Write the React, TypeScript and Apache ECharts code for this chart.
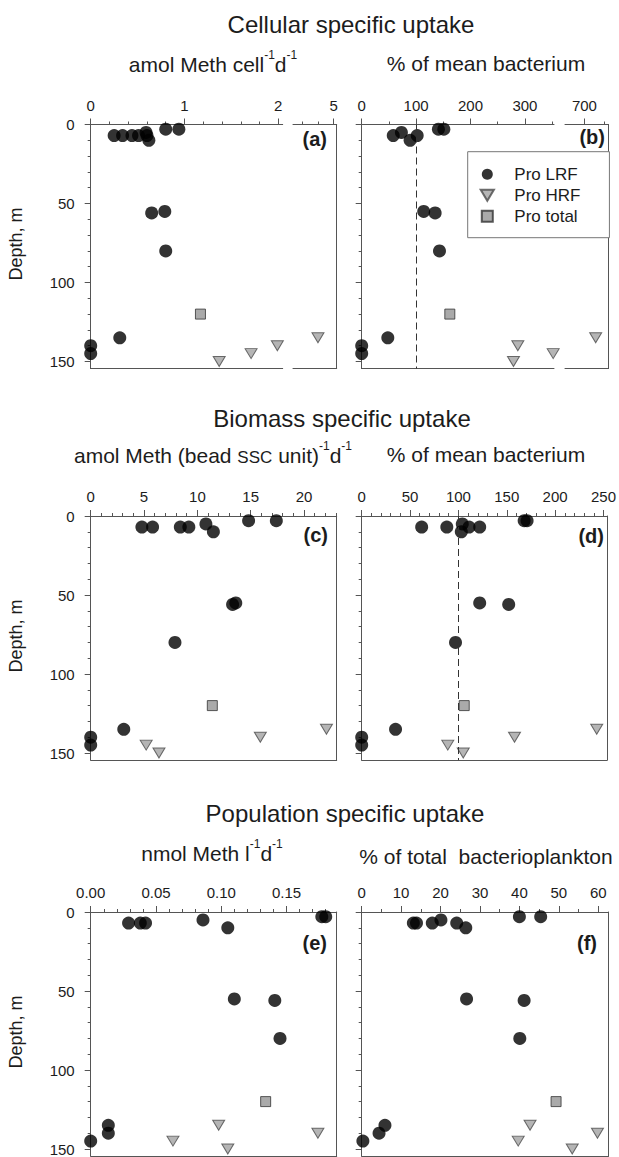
import React, { useEffect, useRef } from 'react';
import * as echarts from 'echarts';

// ---------------- data ----------------
const SERIES_NAMES = ['Pro LRF', 'Pro HRF', 'Pro total'];
const DEPTH_MAX = 154.5;
const depthTicks = [0, 50, 100, 150];
const depthMinorTicks = [10, 20, 30, 40, 60, 70, 80, 90, 110, 120, 130, 140];
const refLine = 100; // % of mean bacterium

// (a) amol Meth cell-1 d-1  [value, depth]
const aLRF = [[0.25, 7], [0.34, 7], [0.44, 7], [0.51, 7], [0.59, 5], [0.6, 7], [0.62, 10], [0.8, 3], [0.94, 3], [0.65, 56], [0.79, 55], [0.8, 80], [0.31, 135], [0, 140], [0, 145]];
const aHRF = [[1.37, 150], [1.71, 145], [1.99, 140], [4.8, 135]];
const aTotal = [[1.17, 120]];
const aMajor = [0, 1, 2];
const aMinor = [0.2, 0.4, 0.6, 0.8, 1.2, 1.4, 1.6, 1.8];
const aBreakMajor = [5];
const aBreakMinor = [4.6, 4.8];

// (b) % of mean bacterium
const bLRF = [[58, 7], [73, 5], [89, 10], [102, 7], [141, 3], [151, 3], [114, 55], [135, 56], [143, 80], [48, 135], [0, 140], [0, 145]];
const bHRF = [[287, 140], [279, 150], [352, 145], [729, 135]];
const bTotal = [[162, 120]];
const bMajor = [0, 100, 200, 300];
const bMinor = [50, 150, 250, 350];
const bBreakMajor = [700];
const bBreakMinor = [750];

// (c) amol Meth (bead SSC unit)-1 d-1
const cLRF = [[4.8, 7], [5.8, 7], [8.4, 7], [9.2, 7], [10.8, 5], [11.5, 10], [14.8, 3], [17.4, 3], [13.3, 56], [13.6, 55], [7.9, 80], [3.1, 135], [0, 140], [0, 145]];
const cHRF = [[5.2, 145], [6.4, 150], [15.9, 140], [22.1, 135]];
const cTotal = [[11.4, 120]];
const cMajor = [0, 5, 10, 15, 20];
const cMinor = [1, 2, 3, 4, 6, 7, 8, 9, 11, 12, 13, 14, 16, 17, 18, 19, 21, 22, 23];

// (d) % of mean bacterium
const dLRF = [[62, 7], [88, 7], [104, 5], [103, 10], [111, 7], [122, 7], [168, 3], [171, 3], [122, 55], [152, 56], [97, 80], [35, 135], [0, 140], [0, 145]];
const dHRF = [[89, 145], [105, 150], [158, 140], [243, 135]];
const dTotal = [[106, 120]];
const dMajor = [0, 50, 100, 150, 200, 250];
const dMinor = [10, 20, 30, 40, 60, 70, 80, 90, 110, 120, 130, 140, 160, 170, 180, 190, 210, 220, 230, 240];

// (e) nmol Meth l-1 d-1
const eLRF = [[0.029, 7], [0.038, 7], [0.042, 7], [0.086, 5], [0.105, 10], [0.177, 3], [0.18, 3], [0.11, 55], [0.141, 56], [0.145, 80], [0.0135, 135], [0.0135, 140], [0, 145]];
const eHRF = [[0.063, 145], [0.098, 135], [0.105, 150], [0.174, 140]];
const eTotal = [[0.134, 120]];
const eMajor = [0, 0.05, 0.1, 0.15];
const eMinor = [0.01, 0.02, 0.03, 0.04, 0.06, 0.07, 0.08, 0.09, 0.11, 0.12, 0.13, 0.14, 0.16, 0.17, 0.18];

// (f) % of total bacterioplankton
const fLRF = [[13.1, 7], [13.9, 7], [17.9, 7], [20.1, 5], [24.1, 7], [26.4, 10], [40, 3], [45.4, 3], [26.6, 55], [41.2, 56], [40.1, 80], [5.9, 135], [4.4, 140], [0.3, 145]];
const fHRF = [[39.7, 145], [42.7, 135], [53.4, 150], [59.8, 140]];
const fTotal = [[49.3, 120]];
const fMajor = [0, 10, 20, 30, 40, 50, 60];
const fMinor = [5, 15, 25, 35, 45, 55];

// ---------------- layout / style ----------------
const FONT = '"Liberation Sans", Arial, Helvetica, sans-serif';
const AXIS_COLOR = '#555';
const TEXT_COLOR = '#1c1c1c';
const PLOT_H = DEPTH_MAX * 1.58;
const ROW_TOPS = [124.5, 516, 912];
const L0 = 90.7, L1 = 336.7, R0 = 361.7, R1 = 608.5;

const TRI = 'path://M0,0L12,0L6,10Z';
const SQR = 'path://M0,0L10,0L10,10L0,10Z';

function buildOption() {
  const grids: any[] = [];
  const xAxes: any[] = [];
  const yAxes: any[] = [];
  const series: any[] = [];
  const lineStyle = { color: AXIS_COLOR, width: 1 };
  const labelStyle = { fontSize: 15, color: TEXT_COLOR, fontFamily: FONT };

  const addGrid = (s: any) => {
    const gi = grids.length;
    grids.push({ left: s.x0, top: s.top, width: s.x1 - s.x0, height: PLOT_H });
    const baseX = { gridIndex: gi, type: 'value', min: s.min, max: s.max, splitLine: { show: false } };
    const xi = xAxes.length;
    xAxes.push({
      ...baseX, position: 'top',
      axisLine: { show: true, onZero: false, lineStyle },
      axisTick: { show: true, inside: false, length: 6, customValues: s.major, lineStyle },
      axisLabel: { show: true, customValues: s.major, margin: 12, ...labelStyle, formatter: s.fmt || ((v: number) => String(v)) },
    });
    xAxes.push({
      ...baseX, position: 'top',
      axisLine: { show: false, onZero: false },
      axisTick: { show: true, inside: false, length: 3, customValues: s.minor, lineStyle },
      axisLabel: { show: false },
    });
    xAxes.push({
      ...baseX, position: 'bottom',
      axisLine: { show: true, onZero: false, lineStyle },
      axisTick: { show: false }, axisLabel: { show: false },
    });
    const baseY = { gridIndex: gi, type: 'value', inverse: true, min: 0, max: DEPTH_MAX, splitLine: { show: false } };
    const yi = yAxes.length;
    if (s.leftAxis) {
      yAxes.push({
        ...baseY, position: 'left',
        axisLine: { show: true, onZero: false, lineStyle },
        axisTick: { show: true, inside: false, length: 6, customValues: depthTicks, lineStyle },
        axisLabel: { show: !!s.yLabels, customValues: depthTicks, margin: 16, ...labelStyle, lineHeight: 13 },
      });
      yAxes.push({
        ...baseY, position: 'left',
        axisLine: { show: false, onZero: false },
        axisTick: { show: true, inside: false, length: 3, customValues: depthMinorTicks, lineStyle },
        axisLabel: { show: false },
      });
    }
    if (s.rightAxis) {
      yAxes.push({
        ...baseY, position: 'right',
        axisLine: { show: true, onZero: false, lineStyle },
        axisTick: { show: false }, axisLabel: { show: false },
      });
    }
    return { xi, yi };
  };

  const styles: any = {
    'Pro LRF': { symbol: 'circle', symbolSize: 13, itemStyle: { color: '#000' }, z: 4 },
    'Pro HRF': { symbol: TRI, symbolSize: [12, 10], itemStyle: { color: '#a3a3a3', borderColor: '#4a4a4a', borderWidth: 1 }, z: 3 },
    'Pro total': { symbol: SQR, symbolSize: 10, itemStyle: { color: '#959595', borderColor: '#333', borderWidth: 1 }, z: 3 },
  };

  const addScatter = (name: string, data: number[][], ax: any, extra: any = {}) => {
    if (!data.length) return;
    series.push({ type: 'scatter', name, xAxisIndex: ax.xi, yAxisIndex: ax.yi, data, clip: false, silent: true, ...styles[name], ...extra });
  };

  const dashed = (v: number) => ({
    markLine: {
      symbol: 'none', silent: true, label: { show: false },
      lineStyle: { type: [7, 4], color: '#333', width: 1 },
      data: [{ xAxis: v }],
    },
  });

  // row 1 ------------------------------------------------
  const aMainMax = 2.047;
  const aM = addGrid({ x0: L0, x1: 282.7, top: ROW_TOPS[0], min: 0, max: aMainMax, major: aMajor, minor: aMinor, leftAxis: true, yLabels: true });
  const aS = addGrid({ x0: 293, x1: L1, top: ROW_TOPS[0], min: 4.48, max: 5.04, major: aBreakMajor, minor: aBreakMinor, rightAxis: true });
  const bMainMax = 353.5;
  const bM = addGrid({ x0: R0, x1: 554, top: ROW_TOPS[0], min: 0, max: bMainMax, major: bMajor, minor: bMinor, leftAxis: true });
  const bS = addGrid({ x0: 565, x1: R1, top: ROW_TOPS[0], min: 650, max: 762, major: bBreakMajor, minor: bBreakMinor, rightAxis: true });

  const split = (d: number[][], max: number) => [d.filter((p) => p[0] <= max), d.filter((p) => p[0] > max)];
  [[aLRF, 'Pro LRF'], [aHRF, 'Pro HRF'], [aTotal, 'Pro total']].forEach(([d, n]: any) => {
    const [m, s] = split(d, aMainMax);
    addScatter(n, m, aM); addScatter(n, s, aS);
  });
  [[bLRF, 'Pro LRF'], [bHRF, 'Pro HRF'], [bTotal, 'Pro total']].forEach(([d, n]: any, i) => {
    const [m, s] = split(d, bMainMax);
    addScatter(n, m, bM, i === 0 ? dashed(refLine) : {}); addScatter(n, s, bS);
  });

  // row 2 ------------------------------------------------
  const cG = addGrid({ x0: L0, x1: L1, top: ROW_TOPS[1], min: 0, max: 23.06, major: cMajor, minor: cMinor, leftAxis: true, rightAxis: true, yLabels: true });
  const dG = addGrid({ x0: R0, x1: R1, top: ROW_TOPS[1], min: 0, max: 253.6, major: dMajor, minor: dMinor, leftAxis: true, rightAxis: true });
  addScatter('Pro LRF', cLRF, cG); addScatter('Pro HRF', cHRF, cG); addScatter('Pro total', cTotal, cG);
  addScatter('Pro LRF', dLRF, dG, dashed(refLine)); addScatter('Pro HRF', dHRF, dG); addScatter('Pro total', dTotal, dG);

  // row 3 ------------------------------------------------
  const eG = addGrid({ x0: L0, x1: L1, top: ROW_TOPS[2], min: 0, max: 0.1884, major: eMajor, minor: eMinor, leftAxis: true, rightAxis: true, yLabels: true, fmt: (v: number) => v.toFixed(2) });
  const fG = addGrid({ x0: R0, x1: R1, top: ROW_TOPS[2], min: 0, max: 62.6, major: fMajor, minor: fMinor, leftAxis: true, rightAxis: true });
  addScatter('Pro LRF', eLRF, eG); addScatter('Pro HRF', eHRF, eG); addScatter('Pro total', eTotal, eG);
  addScatter('Pro LRF', fLRF, fG); addScatter('Pro HRF', fHRF, fG); addScatter('Pro total', fTotal, fG);

  // texts ------------------------------------------------
  const txt = (text: string, x: number, y: number, size: number, extra: any = {}) => ({
    type: 'text', x, y, silent: true,
    style: { text, fontSize: size, fontFamily: FONT, fill: TEXT_COLOR, align: 'center', verticalAlign: 'middle', ...extra },
  });
  const rich = {
    n: { fontSize: 21, fontFamily: FONT, color: TEXT_COLOR, lineHeight: 26, verticalAlign: 'bottom' },
    s: { fontSize: 12, fontFamily: FONT, color: TEXT_COLOR, lineHeight: 14, verticalAlign: 'top' },
    sc: { fontSize: 17, fontFamily: FONT, color: TEXT_COLOR, lineHeight: 22, verticalAlign: 'bottom' },
  };
  const richTxt = (text: string, x: number, y: number) => ({
    type: 'text', x, y, silent: true,
    style: { text, rich, fontSize: 21, fontFamily: FONT, fill: TEXT_COLOR, align: 'center', verticalAlign: 'middle' },
  });
  const bold = { fontWeight: 'bold', fontSize: 20, align: 'right' };

  const graphic = [
    txt('Cellular specific uptake', 351, 24, 24),
    richTxt('{n|amol Meth cell}{s|-1}{n|d}{s|-1}', 213, 62),
    txt('% of mean bacterium', 486, 63, 21),
    txt('Biomass specific uptake', 342, 418, 24),
    richTxt('{n|amol Meth (bead }{sc|SSC}{n| unit)}{s|-1}{n|d}{s|-1}', 213, 453),
    txt('% of mean bacterium', 486, 454, 21),
    txt('Population specific uptake', 345, 813, 24),
    richTxt('{n|nmol Meth l}{s|-1}{n|d}{s|-1}', 212, 851),
    txt('% of total  bacterioplankton', 486, 856, 21),
    { ...txt('Depth, m', 16, 244, 18), rotation: Math.PI / 2 },
    { ...txt('Depth, m', 16, 636, 18), rotation: Math.PI / 2 },
    { ...txt('Depth, m', 16, 1032, 18), rotation: Math.PI / 2 },
    txt('(a)', 327, 139, 20, bold),
    txt('(b)', 605, 137, 20, bold),
    txt('(c)', 328, 535, 20, bold),
    txt('(d)', 604, 536, 20, bold),
    txt('(e)', 327, 943, 20, bold),
    txt('(f)', 597, 943, 20, bold),
  ];

  return {
    animation: false,
    backgroundColor: '#fff',
    grid: grids,
    xAxis: xAxes,
    yAxis: yAxes,
    series,
    graphic,
    legend: {
      data: SERIES_NAMES,
      orient: 'vertical',
      left: 467.7,
      top: 151.7,
      itemWidth: 44,
      itemHeight: 11,
      itemGap: 4,
      padding: [14, 29, 13, 12],
      borderColor: '#777',
      borderWidth: 1,
      backgroundColor: '#fff',
      selectedMode: false,
      textStyle: { fontSize: 17, color: TEXT_COLOR, fontFamily: FONT },
    },
  };
}

export default function App() {
  const ref = useRef<HTMLDivElement>(null);
  useEffect(() => {
    if (!ref.current) return;
    const chart = echarts.init(ref.current, undefined, { renderer: 'svg' });
    chart.setOption(buildOption() as any);
    return () => chart.dispose();
  }, []);
  return (
    <div style={{ position: 'absolute', left: 0, top: 0, width: 619, height: 1157, overflow: 'hidden', background: '#fff' }}>
      <div ref={ref} style={{ width: 619, height: 1170 }} />
    </div>
  );
}
